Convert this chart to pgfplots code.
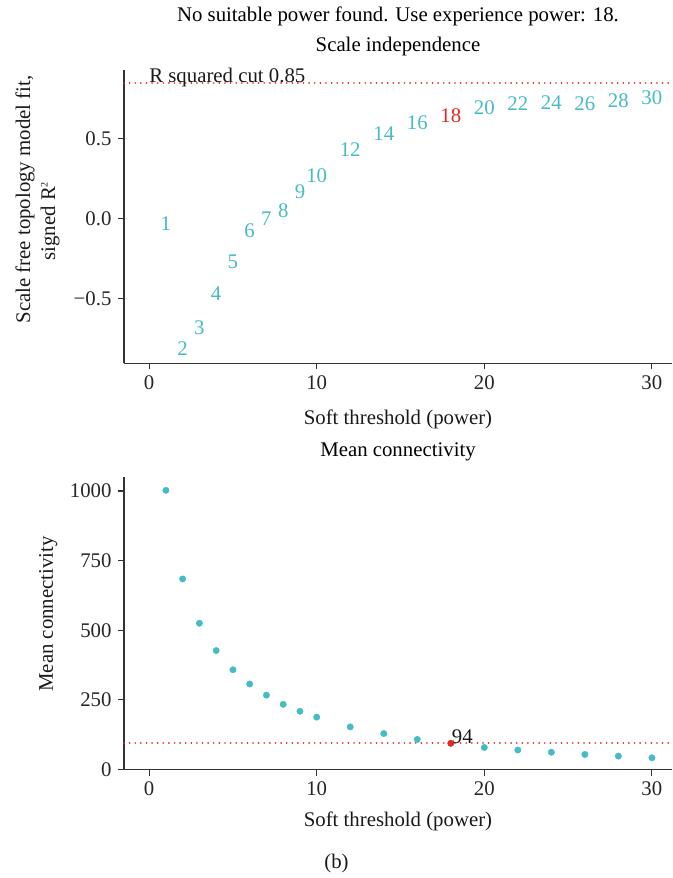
\documentclass[border=0pt]{standalone}
\usepackage{pgfplots}
\pgfplotsset{compat=1.18}
\usepackage{fontspec}
\setmainfont{Liberation Serif}
\definecolor{tealR}{RGB}{69,187,196}
\definecolor{redR}{RGB}{228,41,35}
\definecolor{axisgray}{RGB}{51,51,51}
\newcommand{\fs}{\fontsize{20.8bp}{24bp}\selectfont}
\pgfplotsset{
  myaxis/.style={
    scale only axis, width=548bp,
    axis x line=bottom, axis y line=left,
    axis line style={-, axisgray, line width=1.2bp},
    tick style={axisgray, line width=1.2bp},
    tick align=outside, major tick length=6bp,
    xmin=-1.5, xmax=31.2,
    xtick={0,10,20,30}, xticklabels={0,10,20,30},
    font=\fs,
    tick label style={font=\fs, text=black!85},
    xticklabel style={yshift=-2.5bp},
    yticklabel style={xshift=-3bp},
    label style={font=\fs, text=black!90},
    title style={font=\fontsize{20.8bp}{30bp}\selectfont, align=center, inner sep=0pt, at={(axis description cs:0.5,1)}},
    xlabel style={at={(axis description cs:0.5,0)}, anchor=base, inner sep=0pt},
    clip=false,
  },
  redline/.style={draw=redR, color=redR, mark=none, line width=1.8bp, line cap=round, dash pattern=on 0.01bp off 5.6bp},
}
\begin{document}
\begin{tikzpicture}
\useasboundingbox (0,0) rectangle (673bp,-878bp);
% ---------------- top panel ----------------
\begin{axis}[myaxis,
  at={(124bp,-363.3bp)}, anchor=south west,
  height=293.3bp,
  ymin=-0.905, ymax=0.931,
  ytick={-0.5,0,0.5}, yticklabels={−0.5,0.0,0.5},
  title={No suitable power found. Use experience power: 18.\\Scale independence},
  title style={anchor=south, yshift=7.8bp},
  xlabel={Soft threshold (power)},
  xlabel style={yshift=-61bp},
  ylabel={Scale free topology model fit,},
  ylabel style={at={(axis description cs:-0.1715,0.5585)}, anchor=base, inner sep=0pt},
]
\addplot[redline] coordinates {(-1.5,0.85) (31.2,0.85)};
\addplot[draw=none, mark=none, nodes near coords, point meta=explicit symbolic,
  every node near coord/.append style={anchor=center, inner sep=0pt, text=tealR, font=\fs}]
  table[meta=l] {
x y l
1 -0.03 1
2 -0.81 2
3 -0.68 3
4 -0.47 4
5 -0.27 5
6 -0.075 6
7 0.00 7
8 0.05 8
9 0.17 9
10 0.27 10
12 0.43 12
14 0.53 14
16 0.60 16
20 0.695 20
22 0.72 22
24 0.726 24
26 0.72 26
28 0.74 28
30 0.76 30
};
\addplot[draw=none, mark=none, nodes near coords, point meta=explicit symbolic,
  every node near coord/.append style={anchor=center, inner sep=0pt, text=redR, font=\fs}]
  table[meta=l] {
x y l
18 0.645 18
};
\node[anchor=base west, inner sep=0pt, font=\fs, text=black!90] at (axis cs:0,0.85) {R squared cut 0.85};
\node[rotate=90, anchor=base, inner sep=0pt, font=\fs, text=black!90] at (axis description cs:-0.1259,0.485) {signed R\textsuperscript{\fontsize{10bp}{12bp}\selectfont 2}};
\end{axis}
% ---------------- bottom panel ----------------
\begin{axis}[myaxis,
  at={(124bp,-769.5bp)}, anchor=south west,
  height=292.8bp,
  ymin=0, ymax=1051,
  ytick={0,250,500,750,1000}, yticklabels={0,250,500,750,1000},
  title={Mean connectivity},
  title style={anchor=base, yshift=14.5bp},
  xlabel={Soft threshold (power)},
  xlabel style={yshift=-57bp},
  ylabel={Mean connectivity},
  ylabel style={at={(axis description cs:-0.1296,0.531)}, anchor=base, inner sep=0pt},
]
\addplot[redline] coordinates {(-1.5,94.3) (31.2,94.3)};
\addplot[only marks, mark=*, mark size=3.2bp, tealR, mark options={draw=none, fill=tealR}] table {
x y
1 1002
2 684
3 525
4 427
5 358
6 307
7 267
8 234
9 209
10 188
12 153
14 129
16 108
20 79
22 70
24 62
26 54
28 48
30 42
};
\addplot[only marks, mark=*, mark size=3.2bp, redR, mark options={draw=none, fill=redR}] coordinates {(18,94)};
\node[anchor=base west, inner sep=0pt, font=\fs, text=black!90, xshift=1bp] at (axis cs:18,94) {94};
\end{axis}
\node[anchor=base, inner sep=0pt, font=\fs, text=black!90] at (336.5bp,-868bp) {(b)};
\end{tikzpicture}
\end{document}
